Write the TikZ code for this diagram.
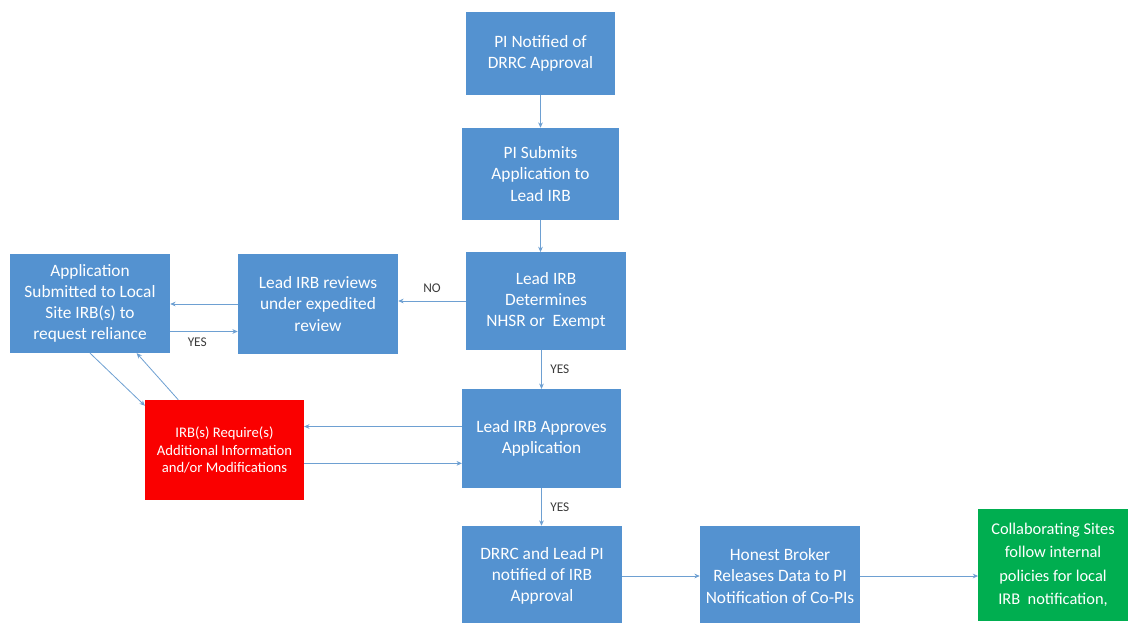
\documentclass[tikz,border=0pt]{standalone}
\usepackage{fontspec}
\setmainfont{Carlito}
\usetikzlibrary{arrows.meta}
\definecolor{boxBlue}{RGB}{84, 146, 208}
\definecolor{boxRed}{RGB}{250, 0, 0}
\definecolor{boxGreen}{RGB}{0, 174, 80}
\definecolor{lineBlue}{RGB}{110, 160, 210}
\definecolor{labelGray}{RGB}{60, 60, 60}

\begin{document}
\begin{tikzpicture}[x=0.75pt, y=-0.75pt,
    stepbox/.style={fill=boxBlue, text=white, align=center, font=\fontsize{13}{15.8}\selectfont,
      minimum width=120pt, minimum height=75pt, inner sep=1pt},
    flow/.style={lineBlue, line width=0.6pt, -{Stealth[length=4pt, width=3.5pt]}},
    answer/.style={font=\fontsize{10}{12}\selectfont, text=labelGray}]
        \clip (0,0) rectangle (1128,622);
        \fill[white] (0,0) rectangle (1128,622);
        % main column
        \node[stepbox, minimum width=112pt, minimum height=62pt] (notified) at (540.5,53.5) {PI Notified of\\DRRC Approval};
        \node[stepbox, minimum width=118pt, minimum height=69pt] (submits) at (540.5,174) {PI Submits\\Application to\\Lead IRB};
        \node[stepbox, minimum height=73pt] (determines) at (546,301) {Lead IRB\\Determines\\NHSR or\ \ Exempt};
        \node[stepbox, minimum width=119pt, minimum height=74pt] (approves) at (541.5,438.5) {Lead IRB Approves\\Application};
        \node[stepbox] (drrc) at (542,576) {DRRC and Lead PI\\notified of IRB\\Approval};
        % left branch
        \node[stepbox] (expedited) at (318,304) {Lead IRB reviews\\under expedited\\review};
        \node[stepbox, minimum height=74pt] (local) at (90,303.5) {Application\\Submitted to Local\\Site IRB(s) to\\request reliance};
        \node[stepbox, fill=boxRed, minimum width=119pt, font=\fontsize{11}{13.2}\selectfont] (modify) at (224.5,450) {IRB(s) Require(s)\\Additional Information\\and/or Modifications};
        % bottom row
        \node[stepbox] (broker) at (780,576) {Honest Broker\\Releases Data to PI\\Notification of Co-PIs};
        \node[stepbox, fill=boxGreen, minimum width=112pt, minimum height=84pt, font=\fontsize{12.3}{17.5}\selectfont] (sites) at (1053,565) {Collaborating Sites\\follow internal\\policies for local\\IRB\ \ notification,};

        \draw[flow] (notified) -- (submits);
        \draw[flow] (submits.south) -- (submits.south |- determines.north);
        \draw[flow] (determines.west) -- (determines.west -| expedited.east) node[answer, midway, above=3pt] {NO};
        \draw[flow] (expedited.west) -- (expedited.west -| local.east);
        \draw[flow] ([yshift=-21pt]local.east) -- ([yshift=-21pt]local.east -| expedited.west) node[answer, pos=0.4, below=1pt] {YES};
        \draw[flow] (local.south) -- ([yshift=-4.5pt]modify.north west);
        \draw[flow] ([xshift=25pt]modify.north west) -- ([xshift=35pt]local.south);
        \draw[flow] ([yshift=9pt]approves.west) -- ([yshift=9pt]approves.west -| modify.east);
        \draw[flow] ([yshift=-10pt]modify.east) -- ([yshift=-10pt]modify.east -| approves.west);
        \draw[flow] (approves.north |- determines.south) -- (approves.north) node[answer, midway, right=3pt] {YES};
        \draw[flow] (approves.south) -- (approves.south |- drrc.north) node[answer, midway, right=3pt] {YES};
        \draw[flow] (drrc.east) -- (drrc.east -| broker.west);
        \draw[flow] (broker.east) -- (broker.east -| sites.west);
      \end{tikzpicture}
\end{document}
